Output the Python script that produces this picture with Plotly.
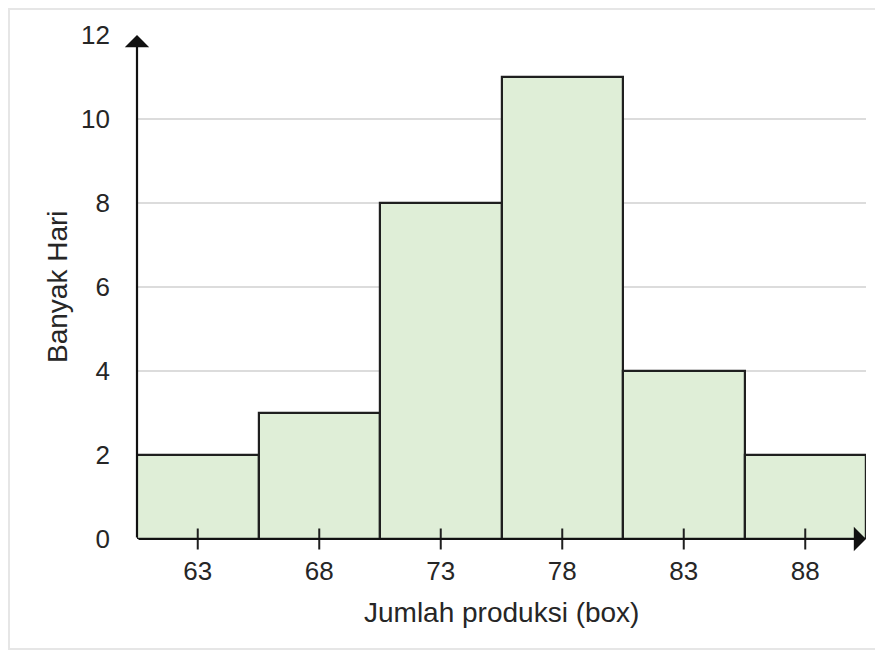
import plotly.graph_objects as go

categories = [63, 68, 73, 78, 83, 88]
counts = [2, 3, 8, 11, 4, 2]
y_ticks = [0, 2, 4, 6, 8, 10, 12]
x_title = "Jumlah produksi (box)"
y_title = "Banyak Hari"

OFF = 8  # page body margin
W, H = 883 - OFF, 657 - OFF
L, R, T, B = 137 - OFF, 17, 35 - OFF, 118
bin_w = 5
x0 = categories[0] - bin_w / 2
x1 = categories[-1] + bin_w / 2
ymax = 12

font = "Liberation Sans, Arial, sans-serif"
tcol = "#262626"
pw, ph = W - L - R, H - T - B

fig = go.Figure()
fig.add_trace(go.Bar(
    x=categories, y=counts, width=bin_w,
    marker=dict(color="#dfeed7", line=dict(color="#1f1f1f", width=2.2)),
    hoverinfo="skip",
))
# cross tick marks on the x axis
fig.add_trace(go.Scatter(
    x=categories, y=[0] * len(categories), mode="markers",
    marker=dict(symbol="line-ns", size=15, line=dict(color="#1f1f1f", width=2)),
    cliponaxis=False, hoverinfo="skip",
))

fig.update_layout(
    width=W, height=H,
    margin=dict(l=L, r=R, t=T, b=B),
    paper_bgcolor="white", plot_bgcolor="white",
    showlegend=False, bargap=0,
    font=dict(family=font, color=tcol),
    xaxis=dict(
        range=[x0, x1], tickvals=categories, ticktext=[str(c) for c in categories],
        showgrid=False, zeroline=False, showline=False, ticks="",
        tickfont=dict(size=26, color=tcol, family=font),
        ticklabelstandoff=14, fixedrange=True,
    ),
    yaxis=dict(
        range=[0, ymax], tickvals=y_ticks, showgrid=True,
        gridcolor="#dcdcdc", gridwidth=1.5, zeroline=False, showline=False,
        ticks="", tickfont=dict(size=26, color=tcol, family=font),
        ticklabelstandoff=26, fixedrange=True,
    ),
    annotations=[
        dict(x=x0, y=ymax, ax=x0, ay=0, xref="x", yref="y", axref="x", ayref="y",
             showarrow=True, arrowhead=1, arrowsize=1.85, arrowwidth=2.2,
             arrowcolor="#111111", text=""),
        dict(x=x1, y=0, ax=x0, ay=0, xref="x", yref="y", axref="x", ayref="y",
             showarrow=True, arrowhead=1, arrowsize=1.85, arrowwidth=2.2,
             arrowcolor="#111111", text=""),
        dict(text=x_title, x=(x0 + x1) / 2, xref="x", y=-(612 - 539) / ph, yref="paper",
             showarrow=False, font=dict(size=28, color=tcol, family=font),
             xanchor="center", yanchor="middle"),
        dict(text=y_title, x=-(137 - 57) / pw, xref="paper", y=0.5, yref="paper",
             showarrow=False, textangle=-90,
             font=dict(size=28, color=tcol, family=font),
             xanchor="center", yanchor="middle"),
    ],
    shapes=[
        dict(type="rect", xref="paper", yref="paper",
             x0=-(L - 1) / pw, x1=1 + (R + 40) / pw,
             y0=-(B - 8) / ph, y1=1 + (T - 1) / ph,
             line=dict(color="#e6e6e6", width=2), fillcolor="rgba(0,0,0,0)",
             layer="below"),
    ],
)

fig.write_html("out.html")
